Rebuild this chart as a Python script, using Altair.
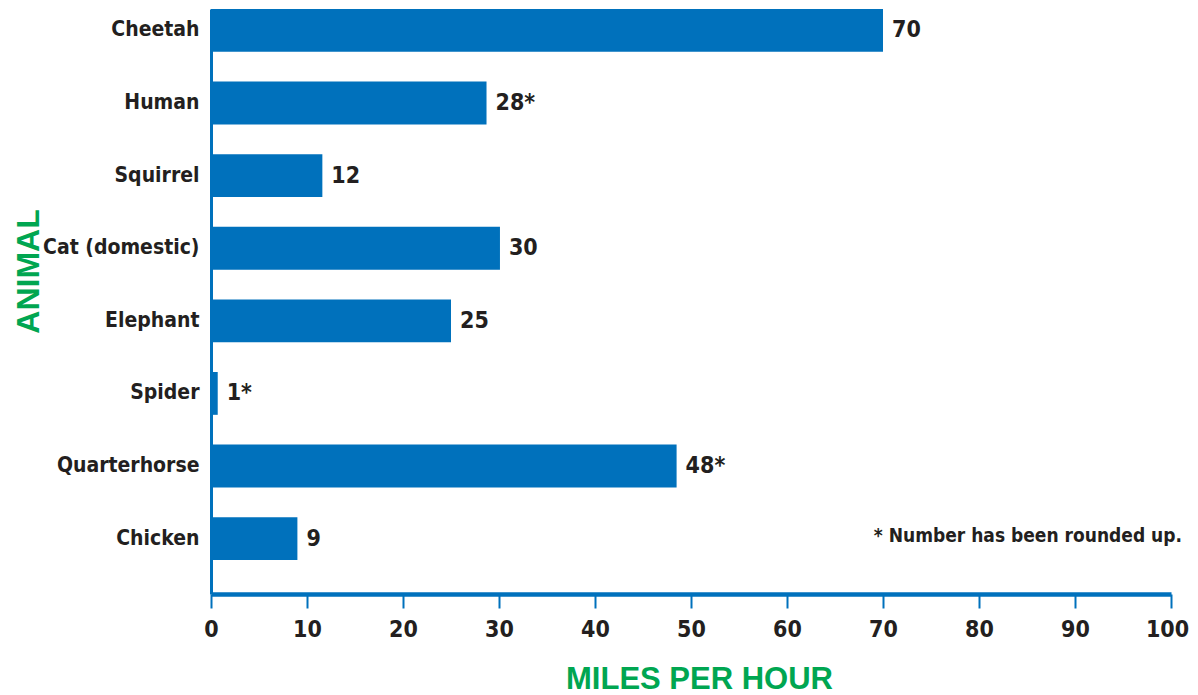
import altair as alt
import pandas as pd

animals = ["Cheetah", "Human", "Squirrel", "Cat (domestic)", "Elephant", "Spider", "Quarterhorse", "Chicken"]
speeds = [70, 28.7, 11.6, 30.1, 25, 0.7, 48.5, 9]
labels = ["70", "28*", "12", "30", "25", "1*", "48*", "9"]
x_ticks = [0, 10, 20, 30, 40, 50, 60, 70, 80, 90, 100]
note = "* Number has been rounded up."

df = pd.DataFrame({"animal": animals, "speed": speeds, "label": labels})

BLUE = "#0071BC"
GREEN = "#00A651"
INK = "#231F20"
FONT = "Noto Sans Condensed, DejaVu Sans Condensed, sans-serif"
TFONT = "Liberation Sans, Arial, sans-serif"

x_enc = alt.X(
    "speed:Q",
    scale=alt.Scale(domain=[0, 100], nice=False, zero=True),
    axis=alt.Axis(
        values=x_ticks, title="MILES PER HOUR", grid=False,
        domainColor=BLUE, domainWidth=4.5, tickColor=BLUE, tickWidth=2, tickSize=14,
        labelFont=FONT, labelFontSize=23, labelFontWeight="bold", labelColor=INK, labelPadding=10,
        labelFlush=False,
        labelOffset={"condition": {"test": "datum.value == 100", "value": -4}, "value": 0},
        titleFont=TFONT, titleFontSize=31, titleFontWeight="bold", titleColor=GREEN,
        titleX=488, titleY=94, titleBaseline="alphabetic", titleAlign="center", titleAnchor="start",
    ),
)
y_enc = alt.Y(
    "animal:N",
    sort=animals,
    scale=alt.Scale(paddingInner=0.41, paddingOuter=0.234, align=0),
    axis=alt.Axis(
        title="ANIMAL", ticks=False, grid=False,
        domainColor=BLUE, domainWidth=3, labelLimit=400,
        labelFont=FONT, labelFontSize=21, labelFontWeight="bold", labelColor=INK, labelPadding=12,
        titleFont=TFONT, titleFontSize=32, titleFontWeight="bold", titleColor=GREEN,
        titleAngle=270, titleX=-173, titleY=262, titleBaseline="alphabetic", titleAlign="center",
    ),
)

bars = alt.Chart(df).mark_bar(color=BLUE).encode(x=x_enc, y=y_enc)
text = alt.Chart(df).mark_text(
    align="left", baseline="middle", dx=9, font=FONT, fontSize=23, fontWeight="bold", color=INK
).encode(x="speed:Q", y=alt.Y("animal:N", sort=animals), text="label:N")

note_layer = alt.Chart(pd.DataFrame({"t": [note]})).mark_text(
    align="right", baseline="alphabetic", font=FONT, fontSize=19, fontWeight="bold", color=INK
).encode(x=alt.value(971), y=alt.value(533), text="t:N")

chart = alt.layer(bars, text, note_layer).properties(
    width=960, height=585,
    autosize=alt.AutoSizeParams(type="none"),
    padding={"left": 203, "top": 1, "right": 19, "bottom": 100},
).configure_view(stroke=None)

chart.save("out.html", embed_options={"renderer": "svg", "actions": False})
